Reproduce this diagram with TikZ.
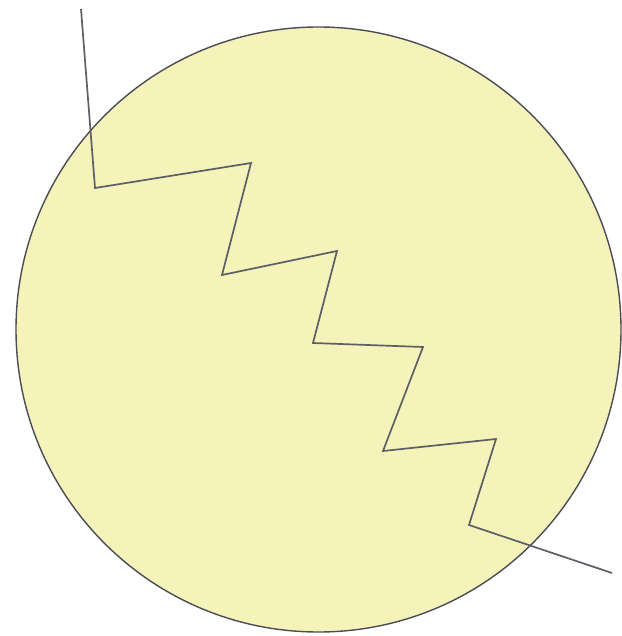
\documentclass[tikz,border=0pt]{standalone}
\definecolor{disk}{HTML}{F5F3B9}
\definecolor{edge}{HTML}{4A4D55}
\tikzset{
  diskstyle/.style={circle, draw=edge, fill=disk, line width=1.4pt, minimum size=605pt, inner sep=0pt},
  zig/.style={draw=edge!90, line width=1.7pt, line join=miter}
}
\begin{document}
\begin{tikzpicture}[x=1pt,y=-1pt]
\useasboundingbox (0,0) rectangle (621,636);
\node[diskstyle] (c) at (318.5,329.5) {};
\coordinate (p0) at (81,9);
\coordinate (p1) at (95,188);
\coordinate (p2) at (251,163);
\coordinate (p3) at (222,275);
\coordinate (p4) at (337,251);
\coordinate (p5) at (313,343);
\coordinate (p6) at (423,347);
\coordinate (p7) at (383,451);
\coordinate (p8) at (496,439);
\coordinate (p9) at (469,525);
\coordinate (p10) at (612,573);
\draw[zig] (p0) -- (p1) -- (p2) -- (p3) -- (p4) -- (p5) -- (p6) -- (p7) -- (p8) -- (p9) -- (p10);
\end{tikzpicture}
\end{document}
